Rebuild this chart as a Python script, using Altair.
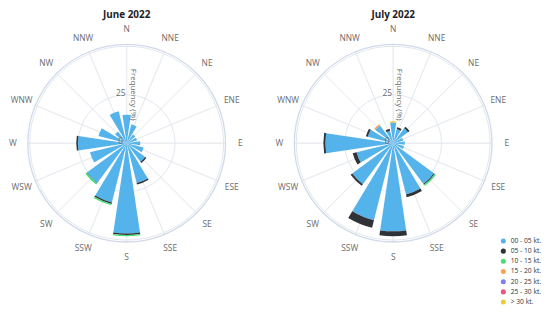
import math
import altair as alt
import pandas as pd

# ---------------- data ----------------
directions = ["N", "NNE", "NE", "ENE", "E", "ESE", "SE", "SSE",
              "S", "SSW", "SW", "WSW", "W", "WNW", "NW", "NNW"]
dir_angles = [0, 22.5, 45, 67.5, 90, 112.5, 135, 157.5,
              180, 202.5, 225, 247.5, 270, 292.5, 315, 337.5]
months = ["June 2022", "July 2022"]
speed_bins = ["00 - 05 kt.", "05 - 10 kt.", "10 - 15 kt.", "15 - 20 kt.",
              "20 - 25 kt.", "25 - 30 kt.", "> 30 kt."]
bin_colors = ["#55b3ec", "#2f3237", "#48de78", "#f7a254",
              "#7b7ff2", "#f0527e", "#e8cc3a"]
radial_ticks = [0, 25]

# frequency (%) per direction, order N .. NNW
june_00_05 = [14.7, 10.0, 5.5, 5.5, 7.0, 9.0, 11.9, 21.2, 46.6, 31.5, 25.5, 19.5, 25.2, 15.0, 7.5, 17.0]
june_05_10 = [0, 0, 0, 0, 0, 0, 0.8, 0.8, 0.8, 0.8, 0.2, 0, 0.8, 0, 0, 0]
june_10_15 = [0, 0, 0, 0, 0, 0, 0, 0, 0.6, 0.7, 0.8, 0, 0, 0, 0, 0]
june_15_20 = [0, 0, 0, 0, 0, 0, 0, 0, 0, 0, 0, 0, 0, 0, 0, 0]
june_20_25 = [0, 0, 0, 0, 0, 0, 0, 0, 0, 0, 0, 0, 0, 0, 0, 0]
june_25_30 = [0, 0, 0, 0, 0, 0, 0, 0, 0, 0, 0, 0, 0, 0, 0, 0]
june_30_up = [0, 0, 0, 0, 0, 0, 0, 0, 0, 0, 0, 0, 0, 0, 0, 0]

july_00_05 = [10.6, 7.5, 9.5, 5.3, 6.0, 5.8, 26.2, 27.3, 45.5, 41.0, 26.3, 19.5, 35.0, 13.5, 11.4, 6.6]
july_05_10 = [0, 1.0, 1.0, 0, 0, 0, 0.5, 1.5, 2.5, 4.0, 1.0, 2.0, 1.0, 1.0, 0, 1.0]
july_10_15 = [0, 0, 0, 0, 0, 0, 0.8, 0, 0, 0, 0, 0, 0, 0, 0, 0]
july_15_20 = [0, 0, 0, 0, 0, 0, 0, 0, 0, 0, 0, 0, 0, 0, 0.8, 0]
july_20_25 = [0, 0, 0, 0, 0, 0, 0, 0, 0, 0, 0, 0, 0, 0, 0, 0]
july_25_30 = [0, 0, 0, 0, 0, 0, 0, 0, 0, 0, 0, 0, 0, 0, 0, 0]
july_30_up = [0.7, 0, 0, 0, 0, 0, 0, 0, 0, 0, 0, 0, 0, 0, 0, 0]

series = {
    "June 2022": [june_00_05, june_05_10, june_10_15, june_15_20, june_20_25, june_25_30, june_30_up],
    "July 2022": [july_00_05, july_05_10, july_10_15, july_15_20, july_20_25, july_25_30, july_30_up],
}

# ---------------- tables ----------------
HALF = 8.5  # half bar width in degrees
rows = []
for m in months:
    for i, d in enumerate(directions):
        cum = 0.0
        for b, vals in zip(speed_bins, series[m]):
            v = vals[i]
            if v > 0:
                rows.append(dict(month=m, dir=d, bin=b,
                                 t0=dir_angles[i] - HALF, t1=dir_angles[i] + HALF,
                                 r0=cum, r1=cum + v))
                cum += v
bars_df = pd.DataFrame(rows)

spokes_df = pd.DataFrame([dict(month=m, dir=d, t0=a - 0.05, t1=a + 0.05, r=51)
                          for m in months for d, a in zip(directions, dir_angles)])
labels_df = pd.DataFrame([dict(month=m, dir=d, ang=a)
                          for m in months for d, a in zip(directions, dir_angles)])
grid_df = pd.DataFrame([dict(month=m, r=r) for m in months for r in [25, 50]])
edge_df = pd.DataFrame([dict(month=m, r=51) for m in months])
ticks_df = pd.DataFrame([dict(month=m, r=t, lab=str(t), ang=0) for m in months for t in radial_ticks])
rtitle_df = pd.DataFrame([dict(month=m, r=25, ang=0, lab="Frequency (%)") for m in months])
title_df = pd.DataFrame([dict(month=m) for m in months])

# ---------------- scales ----------------
CY = 135
x_scale = alt.Scale(type="point", domain=months, range=[120, 389.5], padding=0)
th_scale = alt.Scale(type="linear", domain=[0, 360], range=[0, 2 * math.pi], nice=False, zero=False)
r_scale = alt.Scale(type="linear", domain=[0, 50], range=[0, 98], nice=False, zero=True)
X = alt.X("month:N", scale=x_scale, axis=None)
FONT = "Open Sans"

spokes = alt.Chart(spokes_df).mark_arc(fillOpacity=0, stroke="#e9ecf0", strokeWidth=1).encode(
    x=X, y=alt.value(CY),
    theta=alt.Theta("t0:Q", scale=th_scale, stack=None), theta2="t1:Q",
    radius=alt.Radius("r:Q", scale=r_scale, stack=None),
)

grid = alt.Chart(grid_df).mark_arc(fillOpacity=0, stroke="#e1e6ee", strokeWidth=1).encode(
    x=X, y=alt.value(CY),
    theta=alt.value(0), theta2=alt.value(2 * math.pi),
    radius=alt.Radius("r:Q", scale=r_scale, stack=None),
)

edge = alt.Chart(edge_df).mark_arc(fillOpacity=0, stroke="#d0dae9", strokeWidth=1.3).encode(
    x=X, y=alt.value(CY),
    theta=alt.value(0), theta2=alt.value(2 * math.pi),
    radius=alt.Radius("r:Q", scale=r_scale, stack=None),
)

bars = alt.Chart(bars_df).mark_arc(strokeWidth=0).encode(
    x=X, y=alt.value(CY),
    theta=alt.Theta("t0:Q", scale=th_scale, stack=None), theta2="t1:Q",
    radius=alt.Radius("r1:Q", scale=r_scale, stack=None), radius2="r0:Q",
    color=alt.Color("bin:N", scale=alt.Scale(domain=speed_bins, range=bin_colors),
                    legend=alt.Legend(orient="none", legendX=497.5, legendY=230.5, title=None,
                                      symbolType="circle", symbolSize=26, symbolStrokeWidth=0,
                                      symbolOpacity=1, labelFontSize=6.8, labelColor="#333",
                                      labelFont=FONT, rowPadding=2.3, labelOffset=4, padding=0)),
)

dir_labels = alt.Chart(labels_df).mark_text(fontSize=8.5, color="#6b6b6b", font=FONT).encode(
    x=X, y=alt.value(CY),
    theta=alt.Theta("ang:Q", scale=th_scale, stack=None),
    radius=alt.value(115),
    text="dir:N",
)

tick_labels = alt.Chart(ticks_df).mark_text(fontSize=8.5, color="#6b6b6b", font=FONT, dx=-6, dy=-2).encode(
    x=X, y=alt.value(CY),
    theta=alt.Theta("ang:Q", scale=th_scale, stack=None),
    radius=alt.Radius("r:Q", scale=r_scale, stack=None),
    text="lab:N",
)

r_title = alt.Chart(rtitle_df).mark_text(fontSize=8, color="#6b6b6b", font=FONT, angle=90, dy=-6).encode(
    x=X, y=alt.value(CY),
    theta=alt.Theta("ang:Q", scale=th_scale, stack=None),
    radius=alt.Radius("r:Q", scale=r_scale, stack=None),
    text="lab:N",
)

titles = alt.Chart(title_df).mark_text(fontSize=10, fontWeight="bold", color="#222", font=FONT,
                                       baseline="middle").encode(
    x=X, y=alt.value(5.5), text="month:N",
)

chart = alt.layer(spokes, grid, edge, bars, dir_labels, tick_labels, r_title, titles).properties(
    width=540, height=298, padding=0, autosize=alt.AutoSizeParams(type="none"),
).configure_view(strokeWidth=0)

chart.save("out.html", embed_options={"renderer": "svg", "actions": False})
